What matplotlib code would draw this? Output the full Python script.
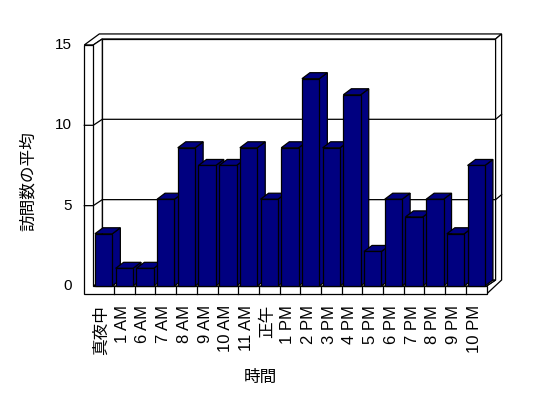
import matplotlib.pyplot as plt
from matplotlib.patches import Polygon

plt.rcParams['font.family'] = ['Liberation Sans', 'Noto Sans CJK JP', 'DejaVu Sans']

# データ
hours = ['真夜中', '1 AM', '6 AM', '7 AM', '8 AM', '9 AM', '10 AM', '11 AM', '正午',
         '1 PM', '2 PM', '3 PM', '4 PM', '5 PM', '6 PM', '7 PM', '8 PM', '9 PM', '10 PM']
visits = [3.25, 1.1, 1.1, 5.4, 8.6, 7.5, 7.5, 8.6, 5.4,
          8.6, 12.9, 8.6, 11.9, 2.15, 5.4, 4.3, 5.4, 3.25, 7.5]
yticks = [0, 5, 10, 15]

navy = '#000080'
lw = 0.9

# layout in pixels -> data units
W, H = 548, 398
cw, uv = 20.7, 16.07          # px per category, px per unit
x0px, y0px = 93.3, 286        # front-left corner of floor
ymax = yticks[-1]
n = len(hours)
x0, x1 = -0.5, n - 0.5

ddx, ddy = 9 / cw, 6 / uv     # depth of the box
bdx, bdy = 8 / cw, 6 / uv     # depth of the bars
tw = 9 / cw                   # left wall thickness
tf = 8 / uv                   # floor thickness
bx, by = 6 / cw, 5 / uv       # back wall thickness

fig = plt.figure(figsize=(W / 100, H / 100), dpi=100)
ax = fig.add_axes([0, 0, 1, 1])
ax.axis('off')
ax.set_xlim(x0 - x0px / cw, x0 + (W - x0px) / cw)
ax.set_ylim((y0px - H) / uv, y0px / uv)


def poly(pts, z, fc='white'):
    ax.add_patch(Polygon(pts, closed=True, facecolor=fc, edgecolor='black',
                         lw=lw, zorder=z, joinstyle='miter'))


# back wall
poly([(x0 + ddx, ddy), (x1 + ddx, ddy), (x1 + ddx, ymax + ddy), (x0 + ddx, ymax + ddy)], 1)
# top rim
poly([(x0 - tw, ymax), (x0, ymax), (x0 + ddx, ymax + ddy), (x1 + ddx, ymax + ddy),
      (x1 + ddx + bx, ymax + ddy + by), (x0 - tw + ddx + bx, ymax + ddy + by)], 1)
# right edge
poly([(x1, -tf), (x1 + ddx + bx, ddy), (x1 + ddx + bx, ymax + ddy + by),
      (x1 + ddx, ymax + ddy), (x1 + ddx, ddy), (x1, 0)], 1)
# floor top
poly([(x0, 0), (x1, 0), (x1 + ddx, ddy), (x0 + ddx, ddy)], 1)
# inner side of left wall
poly([(x0, 0), (x0, ymax), (x0 + ddx, ymax + ddy), (x0 + ddx, ddy)], 1)
# front of left wall + floor
poly([(x0 - tw, -tf), (x1, -tf), (x1, 0), (x0, 0), (x0, ymax), (x0 - tw, ymax)], 1)
for k in range(1, n):
    ax.plot([x0 + k, x0 + k], [-tf, 0], color='black', lw=lw, zorder=1.5)

# gridlines
for t in yticks[1:-1]:
    ax.plot([x0 - tw, x0, x0 + ddx, x1 + ddx, x1 + ddx + bx],
            [t, t, t + ddy, t + ddy, t + ddy + by], color='black', lw=lw, zorder=1.5)

# bars
for i, v in enumerate(visits):
    z = 3 + i * 0.1
    rect = ax.bar(i, v, width=0.84, color=navy, edgecolor='black', lw=lw, zorder=z + 0.05)[0]
    l = rect.get_x()
    r = l + rect.get_width()
    h = rect.get_height()
    poly([(r, 0), (r + bdx, bdy), (r + bdx, h + bdy), (r, h)], z, navy)
    poly([(l, h), (r, h), (r + bdx, h + bdy), (l + bdx, h + bdy)], z, navy)

# labels
for t in yticks:
    ax.text(x0 - tw - 12 / cw, t, str(t), ha='right', va='center', fontsize=11)
for i, name in enumerate(hours):
    ax.text(i - 0.1, -19 / uv, name, rotation=90, ha='center', va='top', fontsize=12)

fig.text(28.5 / W, 1 - 181 / H, '訪問数の平均', rotation=90, ha='center', va='center', fontsize=12)
fig.text(260 / W, 1 - 377 / H, '時間', ha='center', va='center', fontsize=12)

fig.savefig('out.png', dpi=100)
